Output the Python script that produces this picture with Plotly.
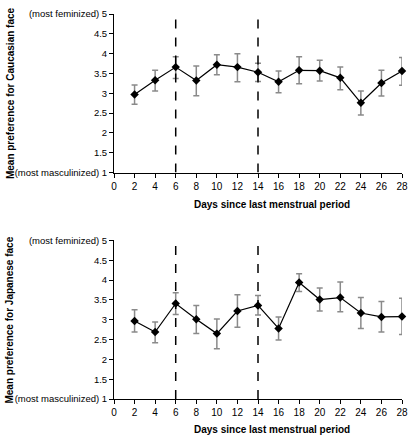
import plotly.graph_objects as go

days = [2, 4, 6, 8, 10, 12, 14, 16, 18, 20, 22, 24, 26, 28]

cauc_mean = [2.97, 3.33, 3.66, 3.32, 3.72, 3.66, 3.53, 3.29, 3.58, 3.57, 3.39, 2.76, 3.26, 3.56]
cauc_upper = [3.21, 3.58, 3.92, 3.69, 3.97, 4.00, 3.76, 3.56, 3.92, 3.83, 3.66, 3.06, 3.58, 3.90]
cauc_lower = [2.72, 3.06, 3.37, 2.94, 3.47, 3.29, 3.30, 3.01, 3.24, 3.31, 3.09, 2.45, 2.93, 3.20]

jap_mean = [2.97, 2.69, 3.41, 3.01, 2.65, 3.22, 3.36, 2.78, 3.94, 3.51, 3.56, 3.17, 3.07, 3.08]
jap_upper = [3.25, 2.94, 3.68, 3.36, 3.02, 3.63, 3.61, 3.07, 4.16, 3.80, 3.95, 3.56, 3.46, 3.54]
jap_lower = [2.69, 2.42, 3.13, 2.65, 2.27, 2.81, 3.12, 2.49, 3.71, 3.22, 3.20, 2.78, 2.69, 2.63]

phase_lines = [6, 14]

x_ticks = list(range(0, 29, 2))
y_vals = [1, 1.5, 2, 2.5, 3, 3.5, 4, 4.5, 5]
y_text = ["(most masculinized) 1", "1.5", "2", "2.5", "3", "3.5", "4", "4.5", "(most feminized) 5"]

x_title = "Days since last menstrual period"
y_titles = ["Mean preference for Caucasian face", "Mean preference for Japanese face"]

FONT = "Liberation Sans, Arial, sans-serif"

L, R, T, B = 114, 9, 8, 37
W, H = 416, 436
PW, PH = W - L - R, H - T - B

fig = go.Figure()

def add_series(mean, upper, lower, xa, ya):
    fig.add_trace(go.Scatter(
        x=days, y=mean, xaxis=xa, yaxis=ya, mode="lines+markers",
        line=dict(color="black", width=1.2),
        marker=dict(symbol="diamond", size=6.5, color="black"),
        error_y=dict(type="data", symmetric=False,
                     array=[u - m for u, m in zip(upper, mean)],
                     arrayminus=[m - l for m, l in zip(mean, lower)],
                     color="#8a8a8a", thickness=1.5, width=3),
        cliponaxis=False, showlegend=False,
    ))

add_series(cauc_mean, cauc_upper, cauc_lower, "x", "y")
add_series(jap_mean, jap_upper, jap_lower, "x2", "y2")

xcommon = dict(range=[0, 28], tickvals=x_ticks, ticks="outside", ticklen=4,
               tickcolor="black", showline=True, linecolor="black", linewidth=1,
               showgrid=False, zeroline=False, tickfont=dict(size=10, color="black"))
ycommon = dict(range=[1, 5], tickvals=y_vals, ticktext=y_text, ticks="outside", ticklen=4,
               tickcolor="black", showline=True, linecolor="black", linewidth=1,
               showgrid=False, zeroline=False, tickfont=dict(size=9.5, color="black"))

top_dom = [1 - 161 / PH, 1]
bot_dom = [0, 161 / PH]

fig.update_layout(
    width=W, height=H,
    margin=dict(l=L, r=R, t=T, b=B),
    paper_bgcolor="white", plot_bgcolor="white",
    font=dict(family=FONT, color="black"),
    xaxis=dict(domain=[0, 1], anchor="y", **xcommon),
    yaxis=dict(domain=top_dom, anchor="x", **ycommon),
    xaxis2=dict(domain=[0, 1], anchor="y2", **xcommon),
    yaxis2=dict(domain=bot_dom, anchor="x2", **ycommon),
)

for xr, yr, ytop in (("x", "y", 5.2), ("x2", "y2", 5.1)):
    for d in phase_lines:
        fig.add_shape(type="line", xref=xr, yref=yr, x0=d, x1=d, y0=1, y1=ytop,
                      line=dict(color="black", width=1.5, dash="dash"))

def px_x(p):
    return (p - L) / PW

def px_y(p):
    return 1 - (p - T) / PH

# x titles
for yc in (201, 430):
    fig.add_annotation(text="<b>" + x_title + "</b>", xref="paper", yref="paper",
                       x=px_x(275), y=px_y(yc), xanchor="center", yanchor="middle",
                       showarrow=False, font=dict(size=10))
# y titles
for t, yc in zip(y_titles, (88.5, 318.5)):
    fig.add_annotation(text="<b>" + t + "</b>", xref="paper", yref="paper",
                       x=px_x(8), y=px_y(yc), xanchor="center", yanchor="middle",
                       textangle=-90, showarrow=False, font=dict(size=10))

fig.write_html("out.html", config={"displayModeBar": False},
               post_script="document.body.style.margin='0';document.body.style.overflow='hidden';")
